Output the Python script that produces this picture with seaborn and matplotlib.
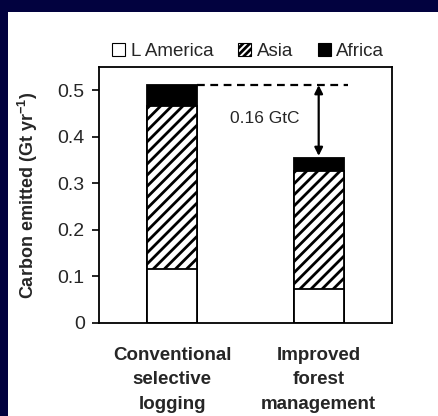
import matplotlib
matplotlib.use("Agg")
import matplotlib.pyplot as plt
from matplotlib.patches import Patch, Rectangle
import seaborn as sns
import numpy as np


# ---------- DATA ----------
categories = ["Conventional\nselective\nlogging", "Improved\nforest\nmanagement"]
l_america = [0.115, 0.072]
asia = [0.351, 0.254]
africa = [0.045, 0.029]
y_ticks = [0, 0.1, 0.2, 0.3, 0.4, 0.5]
y_tick_labels = ["0", "0.1", "0.2", "0.3", "0.4", "0.5"]
gap_label = "0.16 GtC"


# ---------- STYLE ----------
sns.set_theme(style="ticks")
plt.rcParams["font.family"] = ["Liberation Sans", "DejaVu Sans"]
plt.rcParams["mathtext.fontset"] = "custom"
plt.rcParams["mathtext.bf"] = "Liberation Sans:bold"
plt.rcParams["mathtext.rm"] = "Liberation Sans"
plt.rcParams["hatch.linewidth"] = 2.0
plt.rcParams["hatch.color"] = "black"

navy = "#02023f"

fig = plt.figure(figsize=(4.39, 4.16), dpi=100, facecolor=navy)
fig.patches.append(Rectangle((8 / 439, 0), 1, 1 - 12 / 416, transform=fig.transFigure,
                             facecolor="white", edgecolor="none", zorder=-1))
ax = fig.add_axes([0.2248, 0.2236, 0.893 - 0.2248, 0.839 - 0.2236])
ax.set_zorder(1)
ax.set_facecolor("white")

# ---------- STACKED BARS (drawn as overlays of cumulative sums) ----------
la = np.array(l_america)
la_asia = la + np.array(asia)
total = la_asia + np.array(africa)

bar_kw = dict(width=0.34, edgecolor="black", linewidth=1.3, saturation=1,
              errorbar=None, ax=ax)
sns.barplot(x=categories, y=total, color="black", **bar_kw)
n0 = len(ax.patches)
sns.barplot(x=categories, y=la_asia, color="white", **bar_kw)
for p in ax.patches[n0:]:
    p.set_hatch("///")
sns.barplot(x=categories, y=la, color="white", **bar_kw)

# ---------- DIFFERENCE ANNOTATION ----------
ax.plot([0.17, 1.2], [total[0], total[0]], color="black", lw=1.6,
        linestyle=(0, (3.5, 2.5)), zorder=3)
ax.annotate("", xy=(1, total[1] + 0.004), xytext=(1, total[0]),
            arrowprops=dict(arrowstyle="<|-|>", color="black", lw=1.6,
                            mutation_scale=12, shrinkA=0, shrinkB=0))
ax.text(0.63, 0.44, gap_label, fontsize=12.5, ha="center", va="center")

# ---------- AXES ----------
ax.set_xlim(-0.5, 1.5)
ax.set_ylim(0, 0.55)
ax.set_yticks(y_ticks)
ax.set_yticklabels(y_tick_labels)
ax.set_xticks([0, 1])
ax.set_xticklabels(categories, fontsize=13.5, fontweight="bold", linespacing=1.6)
ax.tick_params(axis="x", length=0, pad=17)
ax.tick_params(axis="y", length=5, width=1.2, pad=5, labelsize=14, color="black")
for s in ax.spines.values():
    s.set_visible(True)
    s.set_color("black")
    s.set_linewidth(1.3)

ax.set_ylabel(r"Carbon emitted (Gt yr$^{\mathbf{-1}}$)", fontsize=13, fontweight="bold")
ax.yaxis.set_label_coords(-0.20, 0.5)

handles = [
    Patch(facecolor="white", edgecolor="black", linewidth=0.8, label="L America"),
    Patch(facecolor="white", edgecolor="black", linewidth=0.8, hatch="/////", label="Asia"),
    Patch(facecolor="black", edgecolor="black", linewidth=0.8, label="Africa"),
]
ax.legend(handles=handles, loc="center", bbox_to_anchor=(0.51, 1.062), ncol=3,
          frameon=False, fontsize=13.5, handlelength=0.7, handleheight=0.7,
          handletextpad=0.3, columnspacing=1.3, borderaxespad=0)

fig.savefig("out.png", dpi=100, facecolor=navy)
